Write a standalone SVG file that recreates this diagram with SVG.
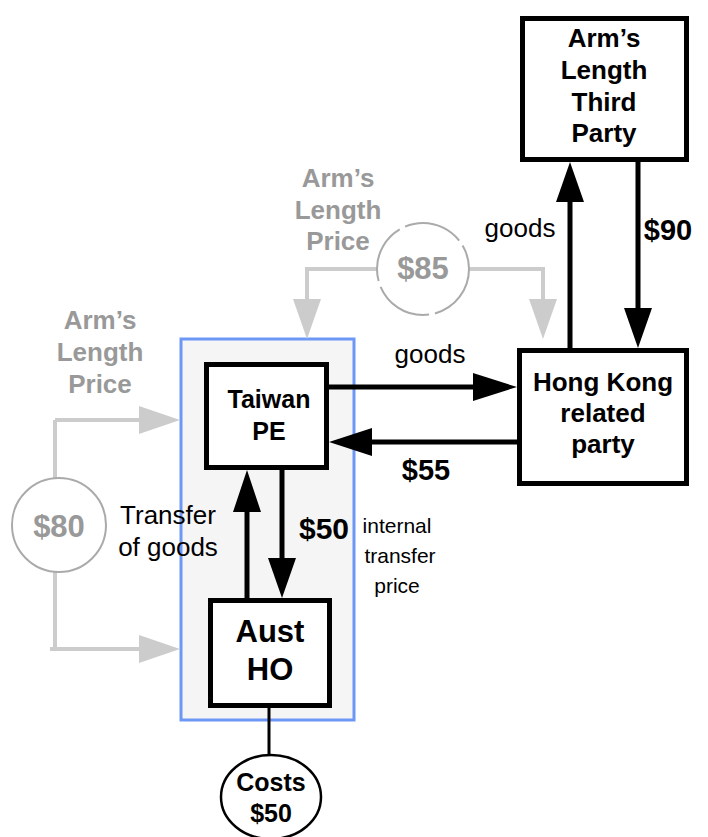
<svg xmlns="http://www.w3.org/2000/svg" width="708" height="837" viewBox="0 0 708 837">
<defs>
<style>
text{font-family:"Liberation Sans",Arial,sans-serif;text-anchor:middle}
.b{font-weight:bold}
.g{fill:#999999}
.box{fill:#ffffff;stroke:#000;stroke-width:5}
.bl{stroke:#000;stroke-width:5;fill:none}
.gl{stroke:#cccccc;stroke-width:4;fill:none}
</style>
</defs>
<rect width="708" height="837" fill="#fff"/>
<g id="group-pe">
<rect x="181" y="339" width="173" height="381" fill="#f5f5f5" stroke="#6d97f5" stroke-width="3"/>
</g>
<g id="connectors">
<path class="gl" d="M305,269 H377 M469,269 H545"/>
<path class="gl" d="M307,267 V300 M543,267 V300 M55,420 H140 M55,420 V478 M55,572 V651 M50,649 H140"/>
<polygon points="293,299 321,299 307,339" fill="#cccccc"/>
<polygon points="529,299 557,299 543,339" fill="#cccccc"/>
<polygon points="139,406 139,434 180,420" fill="#cccccc"/>
<polygon points="139,635 139,663 180,649" fill="#cccccc"/>
<path class="bl" d="M570,348 V200"/>
<polygon points="556,202 584,202 570,162" fill="#000"/>
<path class="bl" d="M638,162 V310"/>
<polygon points="624,308 652,308 638,348" fill="#000"/>
<path class="bl" d="M322,387 H475"/>
<polygon points="473,373 473,401 517,387" fill="#000"/>
<path class="bl" d="M527,442 H370"/>
<polygon points="372,428 372,456 329,442" fill="#000"/>
<path class="bl" d="M247,598 V510"/>
<polygon points="233,512 261,512 247,470" fill="#000"/>
<path class="bl" d="M282,466 V560"/>
<polygon points="268,558 296,558 282,598" fill="#000"/>
<path d="M269,708 V755" stroke="#000" stroke-width="3"/>
</g>
<g id="circle-85">
<circle cx="423" cy="269" r="46" fill="#fff" stroke="#aaaaaa" stroke-width="2" stroke-dasharray="60,6"/>
<text class="b g" x="423" y="279" font-size="31">$85</text>
</g>
<g id="circle-80">
<circle cx="59" cy="525" r="47" fill="#fff" stroke="#aaaaaa" stroke-width="2"/>
<text class="b g" x="59" y="537" font-size="31">$80</text>
</g>
<g id="label-alp-top">
<text class="b g" font-size="26"><tspan x="338" y="187">Arm’s</tspan><tspan x="338" y="219">Length</tspan><tspan x="338" y="250">Price</tspan></text>
</g>
<g id="label-alp-left">
<text class="b g" font-size="26"><tspan x="100" y="329">Arm’s</tspan><tspan x="100" y="361">Length</tspan><tspan x="100" y="393">Price</tspan></text>
</g>
<g id="third-party">
<rect class="box" x="522.5" y="18.5" width="164" height="141"/>
<text class="b" font-size="26"><tspan x="604" y="47">Arm’s</tspan><tspan x="604" y="79">Length</tspan><tspan x="604" y="111">Third</tspan><tspan x="604" y="142">Party</tspan></text>
</g>
<g id="hong-kong">
<rect class="box" x="519.5" y="350.5" width="167" height="133"/>
<text class="b" font-size="26"><tspan x="603" y="391">Hong Kong</tspan><tspan x="603" y="422">related</tspan><tspan x="603" y="453">party</tspan></text>
</g>
<g id="taiwan-pe">
<rect class="box" x="206.5" y="364.5" width="120" height="103"/>
<text class="b" font-size="25"><tspan x="269" y="408">Taiwan</tspan><tspan x="269" y="440">PE</tspan></text>
</g>
<g id="aust-ho">
<rect class="box" x="210.5" y="600.5" width="119" height="105"/>
<text class="b" font-size="31"><tspan x="270" y="642">Aust</tspan><tspan x="270" y="680">HO</tspan></text>
</g>
<g id="costs">
<ellipse cx="271" cy="797" rx="50" ry="42" fill="#fff" stroke="#000" stroke-width="2.5"/>
<text class="b" font-size="25"><tspan x="271" y="791">Costs</tspan><tspan x="271" y="822">$50</tspan></text>
</g>
<g id="labels">
<text x="520" y="237" font-size="26">goods</text>
<text class="b" x="668" y="240" font-size="29">$90</text>
<text x="430" y="363" font-size="26">goods</text>
<text class="b" x="426" y="480" font-size="29">$55</text>
<text class="b" x="324" y="539" font-size="30">$50</text>
<text font-size="21"><tspan x="397" y="533">internal</tspan><tspan x="400" y="563">transfer</tspan><tspan x="397" y="593">price</tspan></text>
<text font-size="26"><tspan x="168" y="524">Transfer</tspan><tspan x="168" y="556">of goods</tspan></text>
</g>
</svg>
